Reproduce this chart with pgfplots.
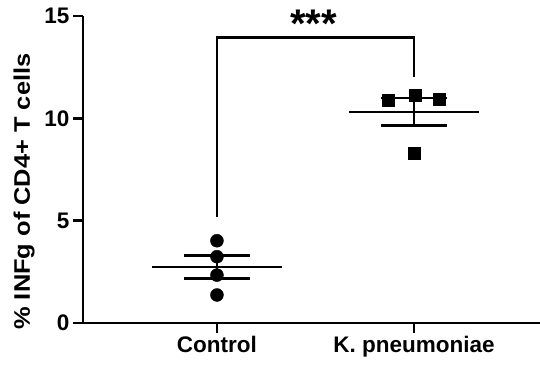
\documentclass[border=0pt]{standalone}
\usepackage{pgfplots}
\pgfplotsset{compat=1.18}
\usepackage{fontspec}
\setmainfont{Liberation Sans}
\begin{document}
\begin{tikzpicture}
\path[use as bounding box] (-83pt,-44pt) rectangle (457pt,323pt);
\begin{axis}[
  at={(0,0)}, anchor=south west,
  scale only axis, width=457pt, height=307pt,
  xmin=0.32, xmax=2.64, ymin=0, ymax=15,
  axis lines=left,
  axis line style={line width=2.7pt, -},
  xtick={1,2}, xticklabels={Control, K. pneumoniae},
  ytick={0,5,10,15},
  tick style={line width=2.5pt, black},
  major tick length=10pt,
  tick align=outside,
  ticklabel style={font=\fontsize{22.5}{24}\selectfont\bfseries},
  /pgf/number format/assume math mode=true,
  ylabel={\scalebox{1.13}[1]{\% INFg of CD4+ T cells}},
  ylabel style={font=\fontsize{22.5}{24}\selectfont\bfseries, at={(axis description cs:-0.129,0.428)}, anchor=center, rotate=0},
  clip=false,
]
% Control group: mean and SEM
\addplot[black, line width=2.5pt] coordinates {(0.67,2.74) (1.33,2.74)};
\addplot[black, line width=2.5pt] coordinates {(0.8325,3.31) (1.1675,3.31)};
\addplot[black, line width=2.5pt] coordinates {(0.8325,2.17) (1.1675,2.17)};
\addplot[black, line width=2.5pt] coordinates {(1,2.17) (1,3.31)};
% K. pneumoniae group: mean and SEM
\addplot[black, line width=2.5pt] coordinates {(1.67,10.32) (2.33,10.32)};
\addplot[black, line width=2.5pt] coordinates {(1.8325,10.99) (2.1675,10.99)};
\addplot[black, line width=2.5pt] coordinates {(1.8325,9.64) (2.1675,9.64)};
\addplot[black, line width=2.5pt] coordinates {(2,9.64) (2,10.99)};
% points
\addplot[only marks, mark=*, mark size=6.5pt, black] coordinates {(1,4.02) (1,3.24) (1,2.34) (1,1.37)};
\addplot[only marks, mark=square*, mark size=6.2pt, black] coordinates {(1.868,10.89) (2.005,11.14) (2.127,10.94) (2.0,8.29)};
% significance bracket
\addplot[black, line width=2.5pt] coordinates {(1,5.2) (1,13.96) (2,13.96) (2,12.03)};
\node[font=\fontsize{40}{40}\selectfont\bfseries, anchor=center] at (axis cs:1.49,14.6) {***};
\end{axis}
\end{tikzpicture}
\end{document}
